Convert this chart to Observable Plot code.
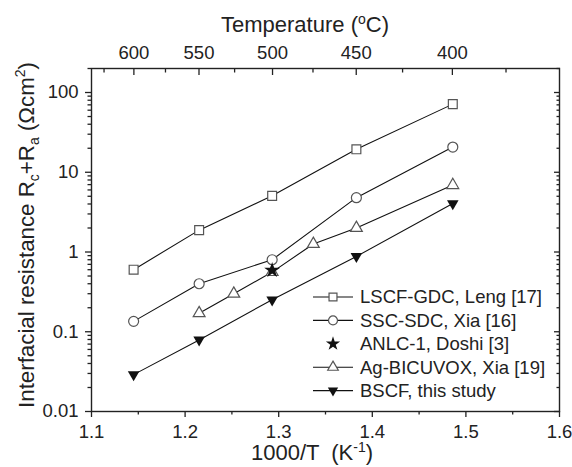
<!DOCTYPE html>
<html><head><meta charset="utf-8">
<script src="https://cdn.jsdelivr.net/npm/d3@7"></script>
<script src="https://cdn.jsdelivr.net/npm/@observablehq/plot@0.6"></script>
<style>
body{margin:0;background:#fff;}
#chart{position:relative;width:572px;height:467px;}
</style></head><body><div id="chart"></div>
<script>
// ---- data ----
const invT = [1.145, 1.215, 1.293, 1.383, 1.486];          // 1000/T (K^-1) at 600,550,500,450,400 °C
const lscf = [0.60, 1.88, 5.06, 19.4, 71.5];                // LSCF-GDC, Leng [17]
const ssc  = [0.135, 0.40, 0.80, 4.8, 20.7];                // SSC-SDC, Xia [16]
const anlcX = [1.293];                                      // ANLC-1, Doshi [3]
const anlcY = [0.59];
const agbX = [1.215, 1.252, 1.293, 1.337, 1.383, 1.486];    // Ag-BICUVOX, Xia [19]
const agbY = [0.171, 0.30, 0.56, 1.26, 2.0, 6.9];
const bscf = [0.029, 0.079, 0.252, 0.88, 4.06];             // BSCF, this study
const seriesNames = ["LSCF-GDC, Leng [17]", "SSC-SDC, Xia [16]", "ANLC-1, Doshi [3]", "Ag-BICUVOX, Xia [19]", "BSCF, this study"];

// ---- tick labels ----
const xTicks = [1.1, 1.2, 1.3, 1.4, 1.5, 1.6];
const xMinor = [1.15, 1.25, 1.35, 1.45, 1.55];
const yTicks = [0.01, 0.1, 1, 10, 100];
const yTickLabels = ["0.01", "0.1", "1", "10", "100"];
const tempTicks = [600, 550, 500, 450, 400];
const tempMinor = [625, 575, 525, 475, 425, 375];

const toInv = t => 1000 / (t + 273.15);
const yMinor = [];
[0.01, 0.1, 1, 10, 100].forEach(d => { for (let k = 2; k <= 9; k++) { const v = d * k; if (v <= 200) yMinor.push(v); } });

const rows = (xs, ys, s) => xs.map((x, i) => ({x, y: ys[i], s}));
const dLSCF = rows(invT, lscf, seriesNames[0]);
const dSSC = rows(invT, ssc, seriesNames[1]);
const dANLC = rows(anlcX, anlcY, seriesNames[2]);
const dAGB = rows(agbX, agbY, seriesNames[3]);
const dBSCF = rows(invT, bscf, seriesNames[4]);

const triDown = {draw(ctx, size) {
  const y = Math.sqrt(size / (Math.sqrt(3) * 3)), x = Math.sqrt(3) * y;
  ctx.moveTo(0, 2 * y); ctx.lineTo(-x, -y); ctx.lineTo(x, -y); ctx.closePath();
}};

const font = "'Liberation Sans', Arial, Helvetica, sans-serif";
const gray = "#555";
const markerStyles = [
  {data: dLSCF, symbol: "square", r: 5.0, fill: "white", stroke: gray},
  {data: dSSC, symbol: "circle", r: 5.0, fill: "white", stroke: gray},
  {data: dANLC, symbol: "star", r: 5.0, fill: "#111", stroke: "none"},
  {data: dAGB, symbol: "triangle", r: 4.4, fill: "white", stroke: gray},
  {data: dBSCF, symbol: triDown, r: 4.3, fill: "#111", stroke: "none"}
];
const drawOrder = [0, 1, 3, 4, 2];

const plot = Plot.plot({
  width: 572, height: 467,
  marginLeft: 91, marginRight: 13, marginTop: 68, marginBottom: 56,
  style: {fontFamily: font, fontSize: "18.5px", color: "#222", background: "#fff"},
  x: {domain: [1.1, 1.6], label: null},
  y: {type: "log", domain: [0.01, 200], label: null},
  marks: [
    Plot.axisX({anchor: "bottom", ticks: xTicks, tickSize: 6, tickPadding: 7, tickFormat: d => d.toFixed(1), label: null, strokeWidth: 1.3}),
    Plot.axisX({anchor: "bottom", ticks: xMinor, tickSize: 3.5, fill: "none", label: null, strokeWidth: 1.3}),
    Plot.axisX({anchor: "top", ticks: tempTicks.map(toInv), tickSize: 6, dy: 6, fill: "none", label: null, strokeWidth: 1.3}),
    Plot.axisX({anchor: "top", ticks: tempMinor.map(toInv), tickSize: 3.5, dy: 3.5, fill: "none", label: null, strokeWidth: 1.3}),
    Plot.axisX({anchor: "top", ticks: tempTicks.map(toInv), tickSize: 0, tickPadding: 10, tickFormat: d => String(Math.round(1000 / d - 273.15)), label: null}),
    Plot.axisY({anchor: "left", ticks: yTicks, tickSize: 6, tickPadding: 7, tickFormat: d => yTickLabels[yTicks.indexOf(d)], label: null, strokeWidth: 1.3}),
    Plot.axisY({anchor: "left", ticks: yMinor, tickSize: 3.5, fill: "none", label: null, strokeWidth: 1.3}),
    Plot.axisY({anchor: "right", ticks: yTicks, tickSize: 6, dx: -6, fill: "none", label: null, strokeWidth: 1.3}),
    Plot.axisY({anchor: "right", ticks: yMinor, tickSize: 3.5, dx: -3.5, fill: "none", label: null, strokeWidth: 1.3}),
    Plot.frame({stroke: "#222", strokeWidth: 1.4}),
    Plot.line(dLSCF, {x: "x", y: "y", stroke: "#111", strokeWidth: 1.1}),
    Plot.line(dSSC, {x: "x", y: "y", stroke: "#111", strokeWidth: 1.1}),
    Plot.line(dAGB, {x: "x", y: "y", stroke: "#111", strokeWidth: 1.1}),
    Plot.line(dBSCF, {x: "x", y: "y", stroke: "#111", strokeWidth: 1.1}),
    ...drawOrder.map(i => markerStyles[i]).map(m => Plot.dot(m.data, {x: "x", y: "y", symbol: m.symbol, r: m.r, fill: m.fill, stroke: m.stroke, strokeWidth: 1.2}))
  ]
});
document.getElementById("chart").appendChild(plot);

// ---- titles and legend ----
const svg = d3.select(plot);
const titleSize = 22;
const txt = (x, y) => svg.append("text").attr("x", x).attr("y", y)
  .attr("font-family", font).attr("font-size", titleSize).attr("fill", "#222").attr("text-anchor", "middle");

const topTitle = txt(305, 32);
topTitle.append("tspan").text("Temperature (");
topTitle.append("tspan").attr("font-size", 14).attr("dy", -8).text("o");
topTitle.append("tspan").attr("dy", 8).text("C)");

const botTitle = txt(312, 460);
botTitle.append("tspan").text("1000/T  (K");
botTitle.append("tspan").attr("font-size", 14).attr("dy", -8).text("-1");
botTitle.append("tspan").attr("dy", 8).text(")");

const yl = svg.append("text").attr("transform", "translate(34,235) rotate(-90)")
  .attr("font-family", font).attr("font-size", 22.3).attr("fill", "#222").attr("text-anchor", "middle");
yl.append("tspan").text("Interfacial resistance R");
yl.append("tspan").attr("font-size", 14).attr("dy", 5).text("c");
yl.append("tspan").attr("dy", -5).text("+R");
yl.append("tspan").attr("font-size", 14).attr("dy", 5).text("a");
yl.append("tspan").attr("dy", -5).text(" (Ωcm");
yl.append("tspan").attr("font-size", 14).attr("dy", -9).text("2");
yl.append("tspan").attr("dy", 9).text(")");

const legendLine = [true, true, false, true, true];
const lg = svg.append("g").attr("transform", "translate(313,297)");
seriesNames.forEach((name, i) => {
  const m = markerStyles[i];
  const g = lg.append("g").attr("transform", `translate(0,${i * 23.4})`);
  if (legendLine[i]) g.append("line").attr("x1", 0).attr("x2", 40).attr("y1", 0).attr("y2", 0).attr("stroke", "#111").attr("stroke-width", 1.1);
  const type = typeof m.symbol === "string" ? {square: d3.symbolSquare, circle: d3.symbolCircle, star: d3.symbolStar, triangle: d3.symbolTriangle}[m.symbol] : m.symbol;
  g.append("path").attr("transform", "translate(20,0)")
    .attr("d", d3.symbol(type, Math.PI * m.r * m.r * 0.8)())
    .attr("fill", m.fill).attr("stroke", m.stroke).attr("stroke-width", 1.2);
  g.append("text").attr("x", 47).attr("dy", "0.35em").attr("text-anchor", "start")
    .attr("font-family", font).attr("font-size", 18.5).attr("fill", "#222").text(name);
});
</script>
</body></html>
